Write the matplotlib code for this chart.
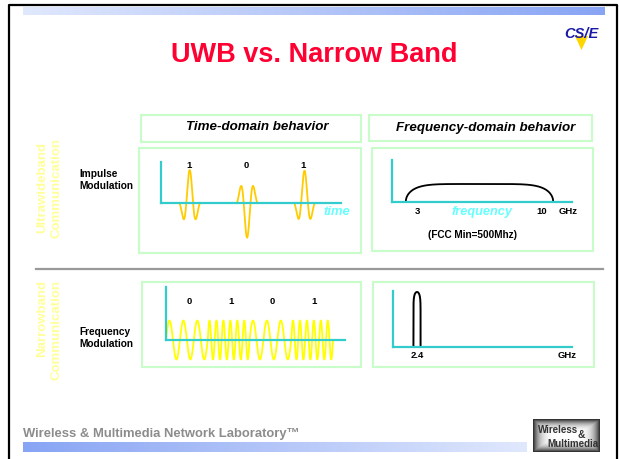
import numpy as np
import matplotlib.pyplot as plt
from matplotlib.patches import Rectangle, Polygon

plt.rcParams['font.family'] = ['Liberation Sans', 'DejaVu Sans']

W, H = 619, 459

# impulse modulation (UWB): one short pulse per bit, sign gives the bit
uwb_bits = ['1', '0', '1']
uwb_amp = [1.0, -1.05, 0.98]

# UWB spectrum: flat band, GHz
uwb_band = [2.37, 10.63]
uwb_level = 1.0
uwb_ticks = [3, 10]
uwb_tick_labels = ['3', '10']

# frequency modulation (narrowband): cycles per bit
nb_bits = ['0', '1', '0', '1']
nb_cycles = {'0': 3, '1': 6}

# narrowband spectrum, GHz
nb_carrier = 2.4
nb_halfwidth = 0.2
nb_tick_labels = ['2.4']

CYAN = '#33cccc'
GREEN = '#c8fcc8'


def px_axes(fig, x0, x1, ytop, ybot):
    return fig.add_axes([x0 / W, 1 - ybot / H, (x1 - x0) / W, (ybot - ytop) / H])


def cyan_axes(ax, ymax):
    ax.patch.set_visible(False)
    for s in ['top', 'right']:
        ax.spines[s].set_visible(False)
    ax.spines['left'].set_bounds(0, ymax)
    ax.spines['bottom'].set_position(('data', 0))
    for s in ['left', 'bottom']:
        ax.spines[s].set_color(CYAN)
        ax.spines[s].set_linewidth(1.6)
    ax.set_xticks([])
    ax.set_yticks([])


def hgrad(ax, x0, x1, y0, y1, c_left, c_right):
    c_left = np.array(c_left) / 255.0
    c_right = np.array(c_right) / 255.0
    s = np.linspace(0, 1, 256)[None, :, None]
    img = c_left + (c_right - c_left) * s
    ax.imshow(img, extent=[x0, x1, y1, y0], aspect='auto', zorder=1)


def box(ax, x0, y0, x1, y1):
    ax.add_patch(Rectangle((x0, y0), x1 - x0, y1 - y0, fill=False,
                           edgecolor=GREEN, linewidth=1.5, zorder=2))


def main():
    fig = plt.figure(figsize=(W / 100, H / 100), dpi=100)
    bg = fig.add_axes([0, 0, 1, 1])
    bg.set_xlim(0, W)
    bg.set_ylim(H, 0)
    bg.axis('off')

    # slide frame and header/footer bars
    bg.plot([9, 9, 617, 617], [H, 5, 5, H], color='black', lw=1.6, zorder=3)
    hgrad(bg, 23, 605, 7, 15, (224, 232, 253), (136, 164, 244))
    hgrad(bg, 23, 527, 442, 452, (136, 164, 244), (224, 232, 253))

    bg.text(314.7, 61.7, 'UWB vs. Narrow Band', color='#ff0033', fontsize=19.5,
            fontweight='bold', ha='center', va='baseline')

    # CS/E logo
    bg.add_patch(Polygon([[575, 36], [588, 36], [581.5, 50]], closed=True,
                         facecolor='#ffd700', edgecolor='none', zorder=2))
    bg.text(581.5, 38.5, 'CS/E', color='#1a1aa6', fontsize=10.5, fontweight='bold',
            style='italic', ha='center', va='baseline', zorder=3)

    # boxes
    box(bg, 141, 115, 361, 142)
    box(bg, 369, 115, 592, 141)
    box(bg, 139, 148, 361, 253)
    box(bg, 372, 148, 593, 251)
    box(bg, 142, 282, 361, 367)
    box(bg, 373, 282, 594, 367)
    bg.plot([36, 603], [269, 269], color='#999999', lw=1.6)

    bg.text(257, 127.5, 'Time-domain behavior', fontsize=9.6, fontweight='bold',
            style='italic', ha='center', va='center')
    bg.text(486, 127.5, 'Frequency-domain behavior', fontsize=9.6, fontweight='bold',
            style='italic', ha='center', va='center')

    bg.text(49.5, 187.5, 'Ultrawideband\nCommunication', rotation=90, color='#ffff99',
            fontsize=9.5, fontweight='bold', ha='center', va='center',
            multialignment='center', linespacing=1.2)
    bg.text(49.5, 280, 'Narrowband\nCommunication', rotation=90, color='#ffff99',
            fontsize=9.5, fontweight='bold', ha='center', va='top',
            multialignment='right', linespacing=1.2)

    for y, s in [(177.2, 'Impulse'), (189.2, 'Modulation'),
                 (335.2, 'Frequency'), (347.4, 'Modulation')]:
        bg.text(79, y, s, fontsize=7.3, fontweight='bold', ha='left', va='baseline')

    # footer
    bg.text(23, 437.5, 'Wireless & Multimedia Network Laboratory\u2122', color='#8c8c8c',
            fontsize=9.4, fontweight='bold', ha='left', va='baseline')
    u = np.linspace(-1, 1, 70)[None, :]
    v = np.linspace(-1, 1, 34)[:, None]
    d = np.maximum(np.abs(u) ** 5, np.abs(v) ** 3)
    vign = 1 - 0.8 * d
    bg.imshow(vign, cmap='gray', vmin=0, vmax=1, extent=[533, 600, 452, 419],
              aspect='auto', zorder=1)
    bg.text(538, 433, 'Wireless', fontsize=7, fontweight='bold', color='#333333',
            family=['Liberation Sans Narrow', 'Liberation Sans'], ha='left',
            va='baseline', zorder=3)
    bg.text(581, 438, '&', fontsize=7.5, fontweight='bold', color='#333333',
            ha='center', va='baseline', zorder=3)
    bg.text(598, 447, 'Multimedia', fontsize=7, fontweight='bold', color='#333333',
            family=['Liberation Sans Narrow', 'Liberation Sans'], ha='right',
            va='baseline', zorder=3)

    # ---- impulse modulation, time domain
    ax = px_axes(fig, 161, 341, 162, 242)
    ax.set_xlim(0, 180 / 57.4)
    ax.set_ylim(-39 / 33, 41 / 33)
    cyan_axes(ax, 41 / 33)
    uu = np.linspace(-1.5, 1.5, 300)
    shape = np.cos(np.pi * uu) * np.exp(-0.82 * uu ** 2)
    for i, (b, a) in enumerate(zip(uwb_bits, uwb_amp)):
        c = i + 0.5
        ax.plot(c + uu * 0.1185, a * shape, color='#ffcc00', lw=1.3, clip_on=False)
        ax.text(c - 0.02, 38 / 33, b, fontsize=6.8, fontweight='bold',
                ha='center', va='center')
    ax.text(3.06, -9 / 33, 'time', color='#66ffff', fontsize=9.4, fontweight='bold',
            style='italic', ha='center', va='center')

    # ---- UWB spectrum
    ax = px_axes(fig, 392, 572, 160, 202)
    ax.set_xlim(3 - 25 / 17.857, 10 + 30 / 17.857)
    ax.set_ylim(0, 42 / 18)
    cyan_axes(ax, 42 / 18)
    f = np.linspace(uwb_band[0], uwb_band[1], 500)
    c = (uwb_band[0] + uwb_band[1]) / 2
    hw = (uwb_band[1] - uwb_band[0]) / 2
    ax.plot(f, uwb_level * np.clip(1 - np.abs((f - c) / hw) ** 6, 0, 1) ** 0.5,
            color='black', lw=1.3, clip_on=False)
    for t, lab in zip(uwb_ticks, uwb_tick_labels):
        ax.text(t, -10 / 18, lab, fontsize=6.8, fontweight='bold', ha='center', va='center')
    ax.text(10 + 26 / 17.857, -10 / 18, 'GHz', fontsize=6.8, fontweight='bold',
            ha='center', va='center')
    ax.text(3 + 65 / 17.857, -10 / 18, 'frequency', color='#66ffff', fontsize=9.2,
            fontweight='bold', style='italic', ha='center', va='center')
    ax.text(3 + 55 / 17.857, -33 / 18, '(FCC Min=500Mhz)', fontsize=7.2,
            fontweight='bold', ha='center', va='center')

    # ---- frequency modulation, time domain
    ax = px_axes(fig, 166, 345, 287, 362)
    ax.set_xlim(0, 179 / 41.75)
    ax.set_ylim(-22 / 19.5, 53 / 19.5)
    cyan_axes(ax, 53 / 19.5)
    for i, b in enumerate(nb_bits):
        t = np.linspace(0, 1, 400)
        ax.plot(i + t, np.sin(2 * np.pi * nb_cycles[b] * t), color='#ffff00',
                lw=1.3, clip_on=False)
        ax.text(i + 0.55, 38 / 19.5, b, fontsize=6.8, fontweight='bold',
                ha='center', va='center')

    # ---- narrowband spectrum
    ax = px_axes(fig, 393, 572, 291, 347)
    ax.set_xlim(nb_carrier - 24 / 17.857, nb_carrier + 155 / 17.857)
    ax.set_ylim(0, 56 / 55)
    cyan_axes(ax, 56 / 55)
    df = np.linspace(-1, 1, 400)
    ax.plot(nb_carrier + df * nb_halfwidth,
            np.clip(1 - df ** 2, 0, 1) ** (1 / 12), color='black', lw=1.4, clip_on=False)
    ax.text(nb_carrier, -8 / 55, nb_tick_labels[0], fontsize=6.8, fontweight='bold',
            ha='center', va='center')
    ax.text(nb_carrier + 150 / 17.857, -8 / 55, 'GHz', fontsize=6.8, fontweight='bold',
            ha='center', va='center')

    fig.savefig('out.png', dpi=100)
    plt.close(fig)


if __name__ == '__main__':
    main()
